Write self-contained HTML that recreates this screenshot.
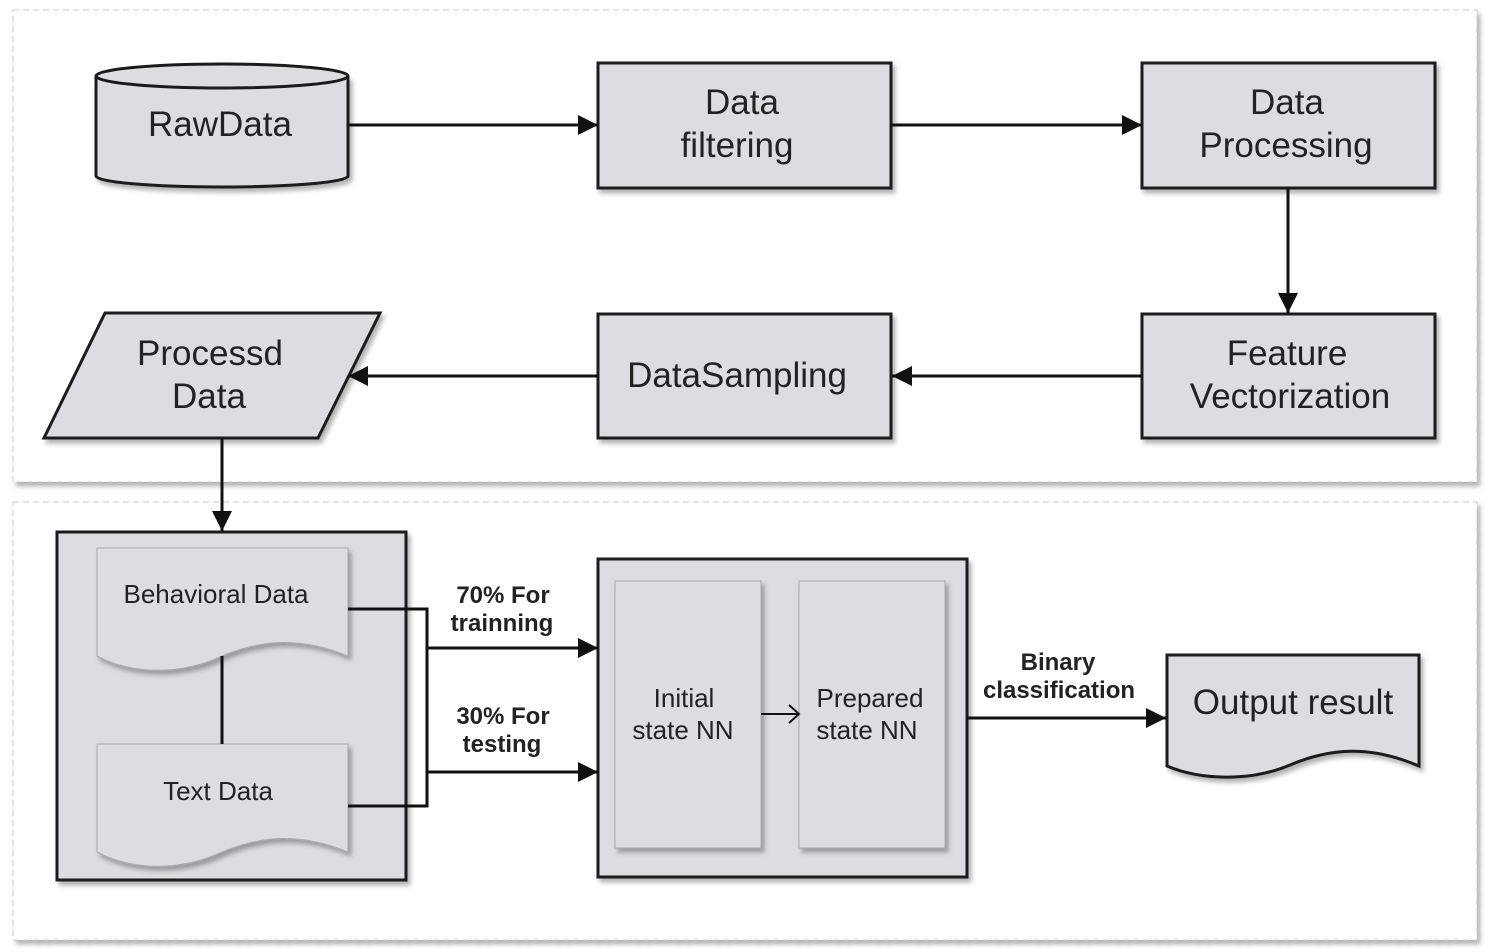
<!DOCTYPE html>
<html><head><style>body{margin:0;background:#fff}svg{display:block}</style></head><body>
<svg width="1489" height="952" viewBox="0 0 1489 952" xmlns="http://www.w3.org/2000/svg" font-family="Liberation Sans, sans-serif">
<defs>
<marker id="b" viewBox="0 0 10 10" markerWidth="20" markerHeight="22" refX="10" refY="5" orient="auto" markerUnits="userSpaceOnUse"><path d="M0,0 L10,5 L0,10 Z" fill="#111"/></marker>
<filter id="s" x="-10%" y="-10%" width="130%" height="130%"><feDropShadow dx="3" dy="4" stdDeviation="2.5" flood-color="#000" flood-opacity="0.3"/></filter>
</defs>
<rect x="13" y="10" width="1464" height="472" fill="#fff" stroke="#ccc" stroke-dasharray="6,4" filter="url(#s)"/>
<rect x="13" y="502" width="1464" height="438" fill="#fff" stroke="#ccc" stroke-dasharray="6,4" filter="url(#s)"/>
<g fill="#dcdde0" stroke="#1a1a1a" stroke-width="3">
<path d="M96,76 L96,176 A126,11 0 0 0 348,176 L348,76" filter="url(#s)"/>
<ellipse cx="222" cy="76" rx="126" ry="12"/>
<rect x="598" y="63" width="293" height="125" filter="url(#s)"/>
<rect x="1142" y="63" width="293" height="125" filter="url(#s)"/>
<rect x="1142" y="314" width="293" height="124" filter="url(#s)"/>
<rect x="598" y="314" width="293" height="124" filter="url(#s)"/>
<polygon points="105,313 380,313 318,438 44,438" filter="url(#s)"/>
<rect x="57" y="532" width="349" height="348" filter="url(#s)"/>
<rect x="598" y="559" width="369" height="318" filter="url(#s)"/>
<path d="M1167,655 L1419,655 L1419,766 C1370,745 1330,748 1290,765 C1250,782 1200,780 1167,766 Z" filter="url(#s)"/>
</g>
<g fill="#dcdde0" stroke="#aaa" stroke-width="1" filter="url(#s)">
<path d="M97,548 L348,548 L348,656 C300,636 260,640 222,656 C180,676 130,674 97,656 Z"/>
<path d="M97,744 L348,744 L348,852 C300,832 260,836 222,852 C180,872 130,870 97,852 Z"/>
<rect x="615" y="581" width="146" height="267"/>
<rect x="799" y="581" width="146" height="267"/>
</g>
<g stroke="#111" stroke-width="3" fill="none">
<line x1="348" y1="125" x2="598" y2="125" marker-end="url(#b)"/>
<line x1="891" y1="125" x2="1142" y2="125" marker-end="url(#b)"/>
<line x1="1288" y1="188" x2="1288" y2="313" marker-end="url(#b)"/>
<line x1="1142" y1="376" x2="892" y2="376" marker-end="url(#b)"/>
<line x1="598" y1="376" x2="348" y2="376" marker-end="url(#b)"/>
<line x1="222" y1="438" x2="222" y2="531" marker-end="url(#b)"/>
<line x1="222" y1="656" x2="222" y2="744"/>
<polyline points="348,609 427,609 427,806 348,806"/>
<line x1="427" y1="648" x2="598" y2="648" marker-end="url(#b)"/>
<line x1="427" y1="772" x2="598" y2="772" marker-end="url(#b)"/>
<line x1="967" y1="718" x2="1166" y2="718" marker-end="url(#b)"/>
<line x1="761" y1="714" x2="799" y2="714" stroke-width="2"/>
<polyline points="789,705 799,714 789,723" stroke-width="2"/>
</g>
<g fill="#222" text-anchor="middle" font-size="35">
<text x="220" y="136">RawData</text>
<text x="742" y="114">Data</text><text x="737" y="157">filtering</text>
<text x="1287" y="114">Data</text><text x="1286" y="157">Processing</text>
<text x="1287" y="365">Feature</text><text x="1290" y="408">Vectorization</text>
<text x="737" y="387">DataSampling</text>
<text x="210" y="365">Processd</text><text x="209" y="408">Data</text>
<text x="1293" y="714">Output result</text>
<g font-size="26"><text x="216" y="603">Behavioral Data</text><text x="218" y="800">Text Data</text>
<text x="684" y="707">Initial</text><text x="683" y="739">state NN</text>
<text x="870" y="707">Prepared</text><text x="867" y="739">state NN</text></g>
<g font-size="24" font-weight="bold"><text x="503" y="603">70% For</text><text x="502" y="631">trainning</text>
<text x="503" y="724">30% For</text><text x="502" y="752">testing</text>
<text x="1058" y="670">Binary</text><text x="1059" y="698">classification</text></g>
</g>
</svg>
</body></html>
